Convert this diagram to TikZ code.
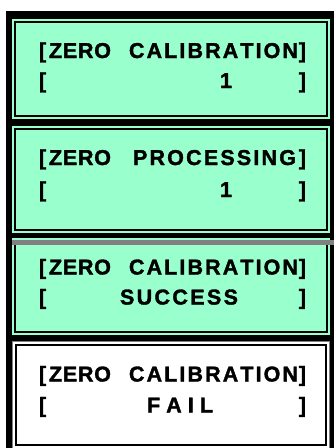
\documentclass[tikz,border=0pt]{standalone}
\usepackage{fontspec}
\newfontfamily\lcd[BoldFeatures={FakeBold=1.6}]{Liberation Sans}
\definecolor{mint}{RGB}{153,255,204}
\definecolor{bargray}{RGB}{128,128,128}
\newcommand\spw[2]{\makebox[#1pt][s]{#2}}
\begin{document}
\begin{tikzpicture}[x=1pt,y=-1pt,
  txt/.style={inner sep=0pt, outer sep=0pt, font=\lcd\bfseries\fontsize{21.5}{26}\selectfont},
  lw/.style={txt, anchor=base west},
  le/.style={txt, anchor=base east},
  lc/.style={txt, anchor=base},
  panelline/.style={draw=black, line width=2pt}]
\useasboundingbox (0,0) rectangle (334,448);
\fill[white] (0,0) rectangle (334,448);
% outer black frame
\fill[black] (6,11) rectangle (334,448);
% panel 1
\fill[mint] (12,19) rectangle (330,119);
\draw[panelline] (15,22) rectangle (327,116);
% panel 2
\fill[mint] (12,126) rectangle (330,233);
\draw[panelline] (15,129) rectangle (327,230);
% panel 3
\fill[mint] (12,238) rectangle (330,335);
\draw[panelline] (15,241) rectangle (327,332);
\fill[bargray] (12,240) rectangle (334,245);
% panel 4
\fill[white] (12,341) rectangle (330,452);
\draw[bargray, line width=1pt] (12.5,341.5) rectangle (329.5,451);
\draw[panelline] (16,345) rectangle (326,445);

% panel 1 text
\node[lw] (p1a) at (39,58) {[};
\node[lw] (p1b) at (49,58) {\spw{62}{Z\hfil E\hfil R\hfil O}};
\node[lw] (p1c) at (129,58) {\spw{169}{C\hfil A\hfil L\hfil I\hfil B\hfil R\hfil A\hfil T\hfil I\hfil O\hfil N}};
\node[le] (p1d) at (306,58) {]};
\node[lw] (p1e) at (39,88) {[};
\node[lc] (p1f) at (226,88) {1};
\node[le] (p1g) at (306,88) {]};
% panel 2 text
\node[lw] (p2a) at (39,165) {[};
\node[lw] (p2b) at (49,165) {\spw{62}{Z\hfil E\hfil R\hfil O}};
\node[lw] (p2c) at (133,165) {\spw{163}{P\hfil R\hfil O\hfil C\hfil E\hfil S\hfil S\hfil I\hfil N\hfil G}};
\node[le] (p2d) at (306,165) {]};
\node[lw] (p2e) at (39,197) {[};
\node[lc] (p2f) at (226,197) {1};
\node[le] (p2g) at (306,197) {]};
% panel 3 text
\node[lw] (p3a) at (39,274.5) {[};
\node[lw] (p3b) at (49,274.5) {\spw{62}{Z\hfil E\hfil R\hfil O}};
\node[lw] (p3c) at (129,274.5) {\spw{169}{C\hfil A\hfil L\hfil I\hfil B\hfil R\hfil A\hfil T\hfil I\hfil O\hfil N}};
\node[le] (p3d) at (306,274.5) {]};
\node[lw] (p3e) at (39,304.5) {[};
\node[lw] (p3f) at (120,304.5) {\spw{118}{S\hfil U\hfil C\hfil C\hfil E\hfil S\hfil S}};
\node[le] (p3g) at (306,304.5) {]};
% panel 4 text
\node[lw] (p4a) at (39,381.5) {[};
\node[lw] (p4b) at (49,381.5) {\spw{62}{Z\hfil E\hfil R\hfil O}};
\node[lw] (p4c) at (129,381.5) {\spw{169}{C\hfil A\hfil L\hfil I\hfil B\hfil R\hfil A\hfil T\hfil I\hfil O\hfil N}};
\node[le] (p4d) at (306,381.5) {]};
\node[lw] (p4e) at (39,412.5) {[};
\node[lw] (p4f) at (147,412.5) {\spw{66}{F\hfil A\hfil I\hfil L}};
\node[le] (p4g) at (306,412.5) {]};
\end{tikzpicture}
\end{document}
